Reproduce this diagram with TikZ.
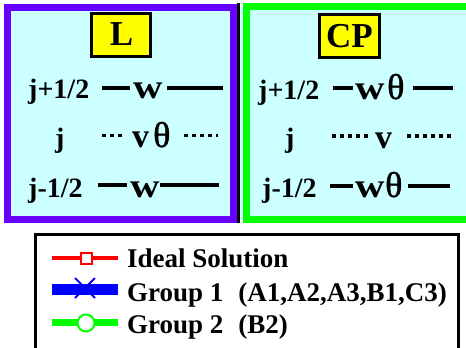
\documentclass[tikz,border=0pt]{standalone}
\usepackage{fontspec}
\setmainfont{Liberation Serif}
\newfontfamily\thetaface[FakeBold=1.2]{Liberation Serif}
\definecolor{purp}{HTML}{6600FF}
\definecolor{grn}{HTML}{00FF00}
\definecolor{paleCyan}{HTML}{CCFFFF}
\definecolor{tagYellow}{HTML}{FFFF00}
\definecolor{redLine}{HTML}{FF0000}
\definecolor{blueLine}{HTML}{0000FF}
\newcommand{\rowfont}{\fontsize{28}{28}\selectfont\bfseries}
\newcommand{\varfont}{\fontsize{34}{34}\selectfont\bfseries}
\newcommand{\thfont}{\fontsize{36}{36}\selectfont\thetaface}
\newcommand{\tagfont}{\fontsize{35}{35}\selectfont\bfseries}
\newcommand{\legfont}{\fontsize{27}{27}\selectfont\bfseries}
\newcommand{\wideW}{\scalebox{1.2}[1]{w}}
\begin{document}
\begin{tikzpicture}[x=1pt,y=-1pt,
  panelA/.style={draw=purp,line width=7pt,fill=paleCyan},
  panelB/.style={draw=grn,line width=7pt,fill=paleCyan},
  tagbox/.style={draw=black,line width=3pt,fill=tagYellow},
  lbl/.style={anchor=base west,inner sep=0pt,font=\rowfont},
  var/.style={anchor=base west,inner sep=0pt,font=\varfont},
  th/.style={anchor=base west,inner sep=0pt,font=\thfont},
  leg/.style={anchor=base west,inner sep=0pt,font=\legfont},
  bar/.style={line width=3.5pt},
  dotrow/.style={line width=3.5pt,dash pattern=on 3.5pt off 4.5pt},
]
\clip (0,0) rectangle (466,348);
\fill[white] (0,0) rectangle (466,348);

% ---- right panel (CP), open to the right ----
\fill[paleCyan] (240,6.5) rectangle (480,219.5);
\draw[panelB] (246,6.5) rectangle (480,219.5);
% ---- left panel (L) ----
\draw[panelA] (7.5,7.5) rectangle (233.5,219.5);
% dark divider between the panels
\draw[line width=3pt] (238.5,3) -- (238.5,223);

% ---- L panel ----
\draw[tagbox] (91.5,13.5) rectangle (150.5,56.5);
\node[anchor=base,inner sep=0pt,font=\tagfont] (tagL) at (121.5,45) {L};

\node[lbl] (lup) at (28,98) {j+1/2};
\draw[bar] (102,88) -- (130,88);
\node[var] (lwup) at (133,98) {\wideW};
\draw[bar] (167,88) -- (223,88);

\node[lbl] (lj) at (55,147) {j};
\draw[dotrow] (102,135.5) -- (122,135.5);
\node[var] (lv) at (132,147) {v};
\node[th] (lth) at (153,147) {θ};
\draw[dotrow] (184,135.5) -- (218,135.5);

\node[lbl] (ldn) at (28,197) {j-1/2};
\draw[bar] (98,185) -- (127,185);
\node[var] (lwdn) at (130,197) {\wideW};
\draw[bar] (160,185) -- (219,185);

% ---- CP panel ----
\draw[tagbox] (319.5,14.5) rectangle (379.5,57.5);
\node[anchor=base,inner sep=0pt,font=\tagfont] (tagCP) at (349.5,47) {CP};

\node[lbl] (rup) at (258,99) {j+1/2};
\draw[bar] (333,88) -- (353,88);
\node[var] (rwup) at (355,99) {\wideW};
\node[th] (rthup) at (387,99) {θ};
\draw[bar] (413,88) -- (453,88);

\node[lbl] (rj) at (285,147) {j};
\draw[dotrow] (332,136) -- (369,136);
\node[var] (rv) at (375,148) {v};
\draw[dotrow] (407,136) -- (455,136);

\node[lbl] (rdn) at (262,197) {j-1/2};
\draw[bar] (330,186) -- (353,186);
\node[var] (rwdn) at (355,197) {\wideW};
\node[th] (rthdn) at (385,197) {θ};
\draw[bar] (408,186) -- (450,186);

% ---- legend ----
\draw[line width=3pt] (35,234.5) rectangle (458.5,370);

\draw[redLine,line width=4pt] (52,257.5) -- (118,257.5);
\node[draw=redLine,fill=white,line width=2pt,minimum size=11pt,inner sep=0pt] (mkA) at (86,258) {};
\node[leg] (legA) at (127,267) {Ideal Solution};

\draw[blueLine,line width=11pt] (52,289) -- (118,289);
\draw[blueLine,line width=2pt] (75,278) -- (95,298) (95,278) -- (75,298);
\coordinate (mkB) at (85,288);
\node[leg] (legB) at (127,301) {Group 1\hspace{0.55em}(A1,A2,A3,B1,C3)};

\draw[grn,line width=7pt] (52,322.5) -- (118,322.5);
\node[draw=grn,fill=white,line width=2pt,circle,minimum size=17pt,inner sep=0pt] (mkC) at (86,323) {};
\node[leg] (legC) at (127,333) {Group 2\hspace{0.55em}(B2)};
\end{tikzpicture}
\end{document}
